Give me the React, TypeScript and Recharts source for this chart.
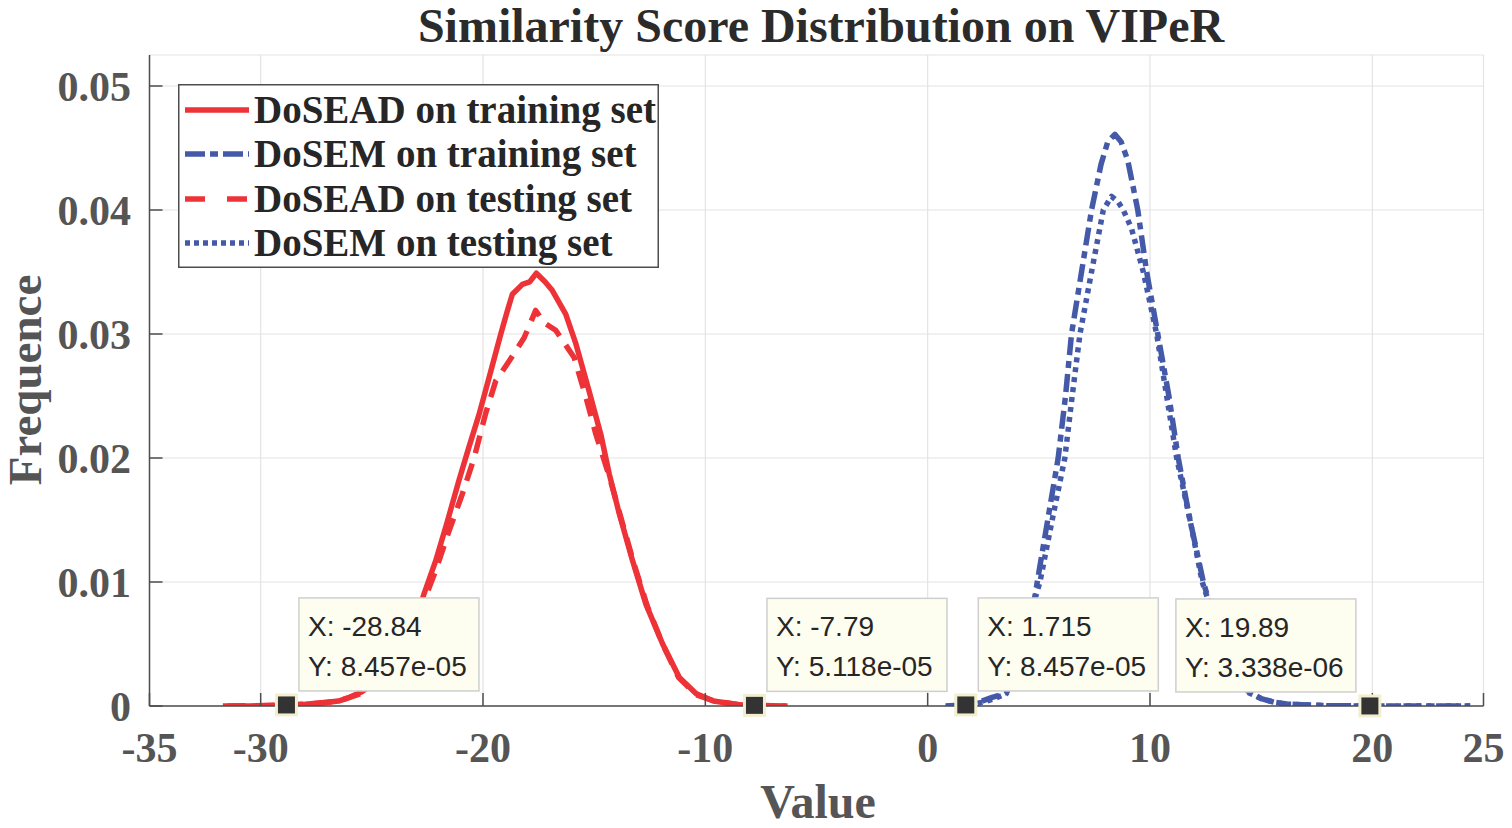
import React from 'react';
import { LineChart, Line, XAxis, YAxis, CartesianGrid, ReferenceDot, Legend, Customized } from 'recharts';

// ---------- data ----------
const xTicks = [-35, -30, -20, -10, 0, 10, 20, 25];
const yTicks = [0, 0.01, 0.02, 0.03, 0.04, 0.05];

const titleText = 'Similarity Score Distribution on VIPeR';
const xLabelText = 'Value';
const yLabelText = 'Frequence';

const seriesNames = [
  'DoSEAD on training set',
  'DoSEM on training set',
  'DoSEAD on testing set',
  'DoSEM on testing set',
];

const redTrainX = [-31.7, -30.5, -29.5, -28.84, -28, -27, -26.5, -26, -25.5, -25, -24.5, -24, -23.5, -23, -22.66, -22.13, -21.6, -21.08, -20.63, -20.18, -19.65, -19.2, -18.9, -18.68, -18.23, -17.9, -17.6, -17.2, -16.88, -16.28, -15.82, -15.23, -14.7, -14.32, -13.87, -13.27, -12.67, -11.92, -11.17, -10.42, -9.64, -8.48, -7.79, -7, -6.3];
const redTrainY = [0, 0.00001, 0.00004, 0.0000846, 0.00015, 0.0003, 0.0004, 0.0007, 0.0011, 0.0017, 0.0026, 0.0038, 0.0052, 0.007, 0.009, 0.0117, 0.0149, 0.0182, 0.0209, 0.0235, 0.027, 0.03, 0.0319, 0.0332, 0.034, 0.0342, 0.0349, 0.0342, 0.0335, 0.0316, 0.0292, 0.0254, 0.0219, 0.0187, 0.0155, 0.0117, 0.0082, 0.005, 0.0023, 0.001, 0.0004, 0.0001, 0.0000512, 0.00002, 0];

const blueTrainX = [0.8, 1.715, 2.3, 2.9, 3.3, 3.54, 4.0, 4.4, 4.82, 5.05, 5.4, 5.87, 6.2, 6.47, 6.92, 7.37, 7.8, 8.1, 8.42, 8.7, 9.0, 9.45, 9.85, 10.35, 10.85, 11.27, 11.8, 12.4, 12.8, 13.4, 14.0, 14.4, 15.0, 15.6, 16.2, 16.8, 18, 19.89, 21, 22.5, 24.4];
const blueTrainY = [0, 0.0000846, 0.0003, 0.0007, 0.0009, 0.0011, 0.0035, 0.006, 0.0088, 0.0113, 0.015, 0.02, 0.025, 0.03, 0.035, 0.04, 0.0437, 0.0455, 0.0461, 0.0455, 0.044, 0.04, 0.035, 0.03, 0.025, 0.02, 0.015, 0.01, 0.0075, 0.0045, 0.0022, 0.0012, 0.0006, 0.0003, 0.00015, 0.0001, 0.00002, 0.0000033, 0, 0, 0];

const redTestX = [-31.5, -30, -28.84, -27.5, -26.5, -25.5, -24.5, -23.5, -22.8, -22.13, -21.53, -20.93, -20.4, -19.88, -19.43, -18.83, -18.15, -17.63, -17.25, -16.73, -15.9, -15.37, -14.92, -14.3, -13.8, -13.2, -12.6, -11.9, -11.2, -10.4, -9.6, -8.5, -7.79, -6.8, -6.4];
const redTestY = [0, 0.00002, 0.00008, 0.0002, 0.0004, 0.001, 0.0024, 0.0048, 0.0078, 0.0109, 0.0141, 0.0171, 0.02, 0.0236, 0.0262, 0.0278, 0.0297, 0.0319, 0.0309, 0.0303, 0.0281, 0.0249, 0.0219, 0.0184, 0.0152, 0.0114, 0.008, 0.0049, 0.0023, 0.0009, 0.0004, 0.0001, 0.00005, 0.00001, 0];

const blueTestX = [0.9, 1.715, 2.5, 3.0, 3.54, 4.0, 4.4, 4.82, 5.05, 5.6, 6.17, 6.5, 6.85, 7.37, 7.9, 8.27, 8.55, 8.8, 9.17, 9.7, 10.3, 10.75, 11.2, 11.8, 12.35, 12.8, 13.4, 14.0, 14.4, 15.0, 15.6, 16.2, 16.8, 18, 19.89, 21, 22.5, 24.4];
const blueTestY = [0, 0.0000846, 0.0003, 0.0006, 0.001, 0.0033, 0.0058, 0.0086, 0.01, 0.015, 0.02, 0.025, 0.03, 0.035, 0.04, 0.0411, 0.0407, 0.04, 0.0385, 0.035, 0.03, 0.025, 0.02, 0.015, 0.01, 0.0075, 0.0045, 0.0022, 0.0011, 0.0006, 0.0003, 0.00015, 0.0001, 0.00002, 0.0000033, 0, 0, 0];

const tipX = [-28.84, -7.79, 1.715, 19.89];
const tipY = [8.457e-5, 5.118e-5, 8.457e-5, 3.338e-6];
const tipXText = ['-28.84', '-7.79', '1.715', '19.89'];
const tipYText = ['8.457e-05', '5.118e-05', '8.457e-05', '3.338e-06'];
const tipSide = ['right', 'right', 'right', 'left'];

// ---------- styles ----------
const RED = '#EE3338';
const BLUE = '#4459A8';
const SERIF = "'Liberation Serif', 'Times New Roman', serif";
const SANS = "'Liberation Sans', Arial, sans-serif";
const LW = 5.5;

const toPoints = (xs: number[], ys: number[]) => xs.map((x, i) => ({ x, y: ys[i] }));

const series = [
  { name: seriesNames[0], data: toPoints(redTrainX, redTrainY), color: RED, dash: undefined as string | undefined, legendDash: undefined as string | undefined },
  { name: seriesNames[1], data: toPoints(blueTrainX, blueTrainY), color: BLUE, dash: '18 6 7 6', legendDash: '20 5 8 5' },
  { name: seriesNames[2], data: toPoints(redTestX, redTestY), color: RED, dash: '18 11', legendDash: '20 22' },
  { name: seriesNames[3], data: toPoints(blueTestX, blueTestY), color: BLUE, dash: '5 5', legendDash: '5 4' },
];

const DataTip = (props: any) => {
  const { cx, cy, idx } = props;
  if (cx == null || cy == null) return null;
  const w = 180;
  const h = 93;
  const side = tipSide[idx];
  const bx = side === 'right' ? cx + 12.5 : cx - 14 - w;
  const by = cy - 14 - h;
  return (
    <g>
      <rect x={bx} y={by} width={w} height={h} fill="#FDFDF0" stroke="#CFCFCF" strokeWidth={1.5} />
      <text x={bx + 9} y={by + 38} fontFamily={SANS} fontSize={28} fill="#262626">{`X: ${tipXText[idx]}`}</text>
      <text x={bx + 9} y={by + 78} fontFamily={SANS} fontSize={28} fill="#262626">{`Y: ${tipYText[idx]}`}</text>
      <rect x={cx - 10} y={cy - 10} width={20} height={20} fill="#333333" stroke="#F2EFD0" strokeWidth={3} />
    </g>
  );
};

const LegendBox = () => {
  const rowY = [26, 70, 115, 159];
  return (
    <svg width={481} height={184} style={{ display: 'block' }}>
      <rect x={0.75} y={0.75} width={479.5} height={182.5} fill="#FFFFFF" stroke="#4D4D4D" strokeWidth={1.5} />
      {series.map((s, i) => (
        <g key={s.name}>
          <line x1={7} x2={71} y1={rowY[i]} y2={rowY[i]} stroke={s.color} strokeWidth={LW} strokeDasharray={s.legendDash} />
          <text x={76} y={rowY[i] + 13} fontFamily={SERIF} fontWeight="bold" fontSize={39} fill="#262626">{s.name}</text>
        </g>
      ))}
    </svg>
  );
};

const Texts = () => (
  <g>
    <text x={821} y={42} textAnchor="middle" fontFamily={SERIF} fontWeight="bold" fontSize={48} fill="#2B2B2B">{titleText}</text>
    <text x={818} y={818} textAnchor="middle" fontFamily={SERIF} fontWeight="bold" fontSize={48} fill="#555555">{xLabelText}</text>
    <text x={41} y={380} textAnchor="middle" transform="rotate(-90, 41, 380)" fontFamily={SERIF} fontWeight="bold" fontSize={47} fill="#555555">{yLabelText}</text>
  </g>
);

const tickStyle = { fontFamily: SERIF, fontWeight: 'bold' as const, fontSize: 42, fill: '#555555' };
const axisLine = { stroke: '#4D4D4D', strokeWidth: 1.5 };

export default function App() {
  return (
    <div style={{ position: 'absolute', left: 0, top: 0, width: 1512, height: 828, background: '#FFFFFF' }}>
      <LineChart width={1512} height={828} margin={{ top: 55, right: 28.5, left: 0, bottom: 0 }}>
        <CartesianGrid stroke="#E3E3E3" strokeWidth={1.2} />
        <XAxis
          dataKey="x"
          type="number"
          domain={[-35, 25]}
          ticks={xTicks}
          interval={0}
          allowDataOverflow
          height={122}
          tickSize={-13}
          tickMargin={39}
          axisLine={axisLine}
          tickLine={axisLine}
          tick={tickStyle}
          tickFormatter={(v: number) => String(v)}
        />
        <XAxis
          xAxisId="top"
          orientation="top"
          type="number"
          domain={[-35, 25]}
          ticks={xTicks}
          interval={0}
          height={0}
          tickSize={-13}
          axisLine={axisLine}
          tickLine={axisLine}
          tickFormatter={() => ''}
        />
        <YAxis
          type="number"
          domain={[0, 0.0525]}
          ticks={yTicks}
          interval={0}
          allowDataOverflow
          width={149.5}
          tickSize={-13}
          tickMargin={31.5}
          axisLine={axisLine}
          tickLine={axisLine}
          tick={tickStyle}
          tickFormatter={(v: number) => (v === 0 ? '0' : v.toFixed(2))}
        />
        <YAxis
          yAxisId="right"
          orientation="right"
          type="number"
          domain={[0, 0.0525]}
          ticks={yTicks}
          interval={0}
          width={0}
          tickSize={-13}
          axisLine={axisLine}
          tickLine={axisLine}
          tickFormatter={() => ''}
        />
        {series.map((s) => (
          <Line
            key={s.name}
            data={s.data}
            dataKey="y"
            name={s.name}
            type="linear"
            stroke={s.color}
            strokeWidth={LW}
            strokeDasharray={s.dash}
            strokeLinejoin="round"
            dot={false}
            activeDot={false}
            isAnimationActive={false}
          />
        ))}
        {tipX.map((tx, i) => (
          <ReferenceDot
            key={`tip-${i}`}
            x={tx}
            y={tipY[i]}
            r={10}
            zIndex={3000}
            shape={(p: any) => <DataTip {...p} idx={i} />}
          />
        ))}
        <Legend
          layout="vertical"
          align="center"
          verticalAlign="middle"
          wrapperStyle={{ left: 178, top: 84, width: 481, height: 184 }}
          content={() => <LegendBox />}
        />
        <Customized component={Texts} />
      </LineChart>
    </div>
  );
}
